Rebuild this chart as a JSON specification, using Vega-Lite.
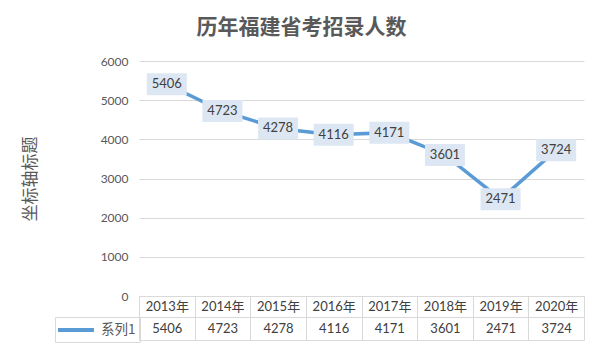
{
  "$schema": "https://vega.github.io/schema/vega-lite/v6.json",
  "width": 445,
  "height": 235,
  "autosize": {"type": "none"},
  "padding": {"left": 139, "top": 61, "right": 18, "bottom": 66},
  "background": "white",
  "config": {
    "font": "Lato, Noto Sans CJK SC, sans-serif",
    "view": {"stroke": null}
  },
  "title": {
    "text": "历年福建省考招录人数",
    "font": "Noto Sans CJK SC",
    "fontSize": 21,
    "fontWeight": "bold",
    "color": "#595959",
    "anchor": "middle",
    "dx": -60,
    "offset": 17
  },
  "data": {
    "values": [
      {"year": "2013年", "value": 5406, "series": "系列1"},
      {"year": "2014年", "value": 4723, "series": "系列1"},
      {"year": "2015年", "value": 4278, "series": "系列1"},
      {"year": "2016年", "value": 4116, "series": "系列1"},
      {"year": "2017年", "value": 4171, "series": "系列1"},
      {"year": "2018年", "value": 3601, "series": "系列1"},
      {"year": "2019年", "value": 2471, "series": "系列1"},
      {"year": "2020年", "value": 3724, "series": "系列1"}
    ]
  },
  "encoding": {
    "y": {
      "field": "value",
      "type": "quantitative",
      "scale": {"domain": [0, 6000]},
      "axis": {
        "title": "坐标轴标题",
        "titleFontSize": 17,
        "titleFontWeight": "normal",
        "titleColor": "#595959",
        "titleFont": "Noto Sans CJK SC",
        "titlePadding": 61,
        "values": [0, 1000, 2000, 3000, 4000, 5000, 6000],
        "format": "d",
        "labelFontSize": 12,
        "labelColor": "#595959",
        "labelPadding": 11,
        "domain": false,
        "ticks": false,
        "grid": true,
        "gridColor": "#d9d9d9"
      }
    }
  },
  "layer": [
    {
      "mark": {"type": "line", "strokeWidth": 3.5, "strokeCap": "round"},
      "encoding": {
        "x": {
          "field": "year",
          "type": "nominal",
          "sort": null,
          "bandPosition": 0.5,
          "scale": {"type": "band", "paddingInner": 0, "paddingOuter": 0},
          "axis": {
            "title": null,
            "orient": "bottom",
            "labelAngle": 0,
            "tickBand": "extent",
            "tickSize": 21,
            "tickColor": "#d9d9d9",
            "domainColor": "#d9d9d9",
            "labelBaseline": "middle",
            "labelPadding": -11,
            "labelFontSize": 13,
            "labelColor": "#404040",
            "grid": false
          }
        },
        "color": {
          "field": "series",
          "type": "nominal",
          "scale": {"range": ["#5b9bd5"]},
          "legend": {
            "title": null,
            "orient": "none",
            "legendX": -84,
            "legendY": 256,
            "symbolType": "M-1.43,0H3.71",
            "symbolSize": 196,
            "symbolStrokeWidth": 4,
            "labelFontSize": 13.5,
            "labelFont": "Noto Sans CJK SC",
            "labelColor": "#595959",
            "labelOffset": 24,
            "strokeColor": "#d9d9d9",
            "padding": 4
          }
        }
      }
    },
    {
      "mark": {"type": "point", "shape": "M-1,-0.55H1V0.55H-1Z", "size": 1600, "filled": true, "fill": "#dde7f3", "opacity": 1, "strokeWidth": 0},
      "encoding": {
        "x": {
          "field": "year",
          "type": "nominal",
          "sort": null,
          "bandPosition": 0.5,
          "scale": {"type": "band", "paddingInner": 0, "paddingOuter": 0},
          "axis": {
            "title": null,
            "orient": "bottom",
            "offset": 44,
            "labels": false,
            "ticks": false,
            "grid": false,
            "domainColor": "#d9d9d9"
          }
        }
      }
    },
    {
      "mark": {"type": "text", "fontSize": 13, "color": "#404040"},
      "encoding": {
        "x": {
          "field": "value",
          "type": "nominal",
          "sort": null,
          "bandPosition": 0.5,
          "scale": {"type": "band", "paddingInner": 0, "paddingOuter": 0},
          "axis": {
            "title": null,
            "orient": "bottom",
            "offset": 21,
            "labelAngle": 0,
            "tickBand": "extent",
            "tickSize": 23,
            "tickColor": "#d9d9d9",
            "domainColor": "#d9d9d9",
            "labelBaseline": "middle",
            "labelPadding": -11.5,
            "labelFontSize": 13,
            "labelColor": "#404040",
            "grid": false
          }
        },
        "text": {"field": "value", "type": "quantitative", "format": "d"}
      }
    }
  ],
  "resolve": {"scale": {"x": "independent"}, "axis": {"x": "independent"}}
}
